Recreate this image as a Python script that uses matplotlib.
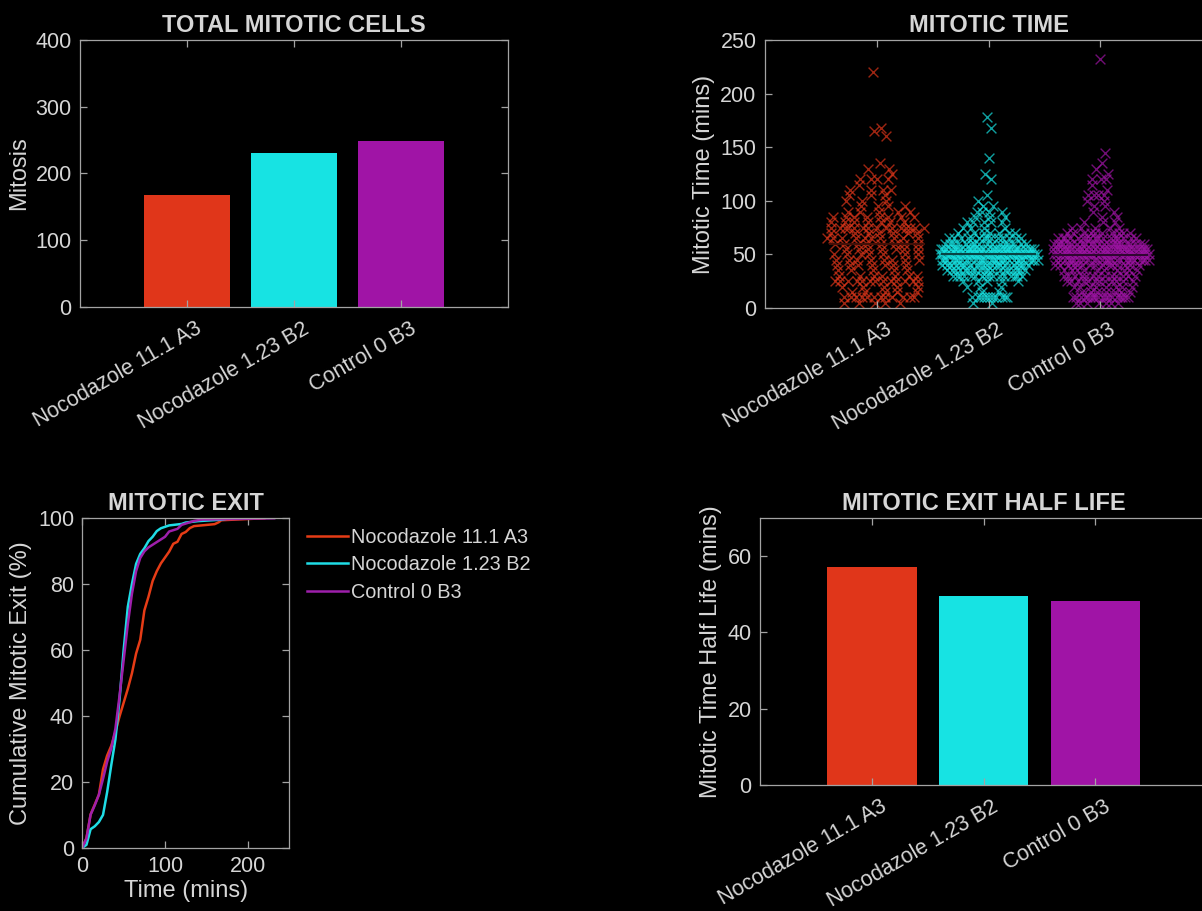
import numpy as np
import matplotlib.pyplot as plt
from matplotlib import transforms

groups = ['Nocodazole 11.1 A3', 'Nocodazole 1.23 B2', 'Control 0 B3']

# mitotic time per cell (mins), stored as time value + number of cells at that value
a3_times = [5, 10, 15, 20, 25, 30, 35, 40, 45, 50, 55, 60, 65, 70, 75, 80, 85, 90, 95,
            100, 105, 110, 115, 120, 125, 130, 135, 160, 165, 168, 220]
a3_counts = [5, 12, 5, 5, 13, 7, 5, 7, 8, 7, 7, 8, 10, 7, 15, 7, 8, 5, 4,
             3, 3, 4, 1, 4, 1, 2, 1, 1, 1, 1, 1]
b2_times = [5, 10, 15, 20, 25, 30, 35, 40, 45, 50, 55, 60, 65, 70, 75, 80, 85, 90, 95,
            100, 105, 120, 125, 140, 168, 178]
b2_counts = [2, 11, 2, 3, 5, 16, 19, 18, 28, 35, 30, 16, 14, 7, 4, 5, 3, 4, 2,
             1, 1, 1, 1, 1, 1, 1]
b3_times = [5, 10, 15, 20, 25, 30, 35, 40, 45, 50, 55, 60, 65, 70, 75, 80, 85, 90, 95,
            100, 105, 110, 115, 120, 125, 130, 135, 145, 232]
b3_counts = [7, 18, 7, 8, 12, 13, 10, 15, 25, 27, 27, 23, 17, 10, 5, 3, 2, 2, 2,
             2, 4, 1, 1, 3, 1, 1, 1, 1, 1]

half_life = [57.1, 49.5, 48.2]

bar_colors = ['#e0361a', '#17e3e3', '#a014a6']
line_colors = ['#e63c16', '#1fdde6', '#9e1fab']
text_col = '#d6d6d6'
axis_col = '#a3a3a3'

plt.rcParams['font.family'] = ['Liberation Sans', 'DejaVu Sans']

times = [np.repeat(a3_times, a3_counts).astype(float),
         np.repeat(b2_times, b2_counts).astype(float),
         np.repeat(b3_times, b3_counts).astype(float)]
totals = [len(t) for t in times]
xpos = np.arange(1, 4)


def style(ax, right=True):
    ax.set_facecolor('black')
    for s in ax.spines.values():
        s.set_color(axis_col)
        s.set_linewidth(0.9)
    ax.tick_params(direction='in', top=True, right=right, colors=axis_col,
                   labelcolor=text_col, labelsize=15.5, length=5, width=0.9, pad=6)


def cat_labels(ax, dx=8):
    ax.set_xticks(xpos)
    ax.set_xticklabels(groups, rotation=30, ha='right', rotation_mode='anchor')
    off = transforms.ScaledTranslation(dx / 100, -3 / 100, ax.figure.dpi_scale_trans)
    for lab in ax.get_xticklabels():
        lab.set_transform(lab.get_transform() + off)


def swarm_offsets(vals, half_width):
    # spread each row sideways in proportion to the local density
    grid = np.unique(vals)
    dens = np.array([np.exp(-0.5 * ((vals - g) / 12.0) ** 2).sum() for g in grid])
    dens = (dens / dens.max()) ** 0.6
    x = np.zeros_like(vals)
    for r, g in enumerate(grid):
        idx = np.where(vals == g)[0]
        frac = (np.arange(len(idx)) * 0.618034 + r * 0.37) % 1.0
        x[idx] = half_width * dens[r] * (2 * frac - 1)
    return x


fig = plt.figure(figsize=(12.02, 9.11), dpi=100, facecolor='black')

# total mitotic cells
ax1 = fig.add_axes([0.0666, 0.6630, 0.3561, 0.2931])
style(ax1)
ax1.bar(xpos, totals, width=0.8, color=bar_colors)
ax1.set_xlim(0, 4)
ax1.set_ylim(0, 400)
ax1.set_yticks([0, 100, 200, 300, 400])
cat_labels(ax1)
ax1.set_ylabel('Mitosis', color=text_col, fontsize=17, labelpad=4)
ax1.set_title('TOTAL MITOTIC CELLS', color=text_col, fontsize=17, fontweight='bold', pad=6)

# mitotic time swarm
ax2 = fig.add_axes([0.6364, 0.6619, 0.3720, 0.2942])
style(ax2, right=False)
for i, vals in enumerate(times):
    xs = xpos[i] + swarm_offsets(vals, 0.45)
    ax2.scatter(xs, vals, marker='x', s=50, linewidths=1.0, color=bar_colors[i], alpha=0.7)
    dark = tuple(0.3 * np.array(plt.matplotlib.colors.to_rgb(bar_colors[i])))
    ax2.plot([xpos[i] - 0.42, xpos[i] + 0.42], [vals.mean()] * 2, color=dark, lw=1.5)
ax2.set_xlim(0, 4)
ax2.set_ylim(0, 250)
ax2.set_yticks([0, 50, 100, 150, 200, 250])
cat_labels(ax2)
ax2.set_ylabel('Mitotic Time (mins)', color=text_col, fontsize=17, labelpad=4)
ax2.set_title('MITOTIC TIME', color=text_col, fontsize=17, fontweight='bold', pad=6)

# cumulative mitotic exit, one point per observed time
ax3 = fig.add_axes([0.0685, 0.0695, 0.1720, 0.3616])
style(ax3)
for i, vals in enumerate(times):
    t, n = np.unique(vals, return_counts=True)
    pct = np.cumsum(n) / n.sum() * 100
    ax3.plot(np.r_[0, t], np.r_[0, pct], color=line_colors[i], lw=1.8, label=groups[i])
ax3.set_xlim(0, 250)
ax3.set_ylim(0, 100)
ax3.set_xticks([0, 100, 200])
ax3.set_yticks([0, 20, 40, 60, 80, 100])
ax3.set_xlabel('Time (mins)', color=text_col, fontsize=17, labelpad=2)
ax3.set_ylabel('Cumulative Mitotic Exit (%)', color=text_col, fontsize=17, labelpad=4)
ax3.set_title('MITOTIC EXIT', color=text_col, fontsize=17, fontweight='bold', pad=6)
leg = ax3.legend(loc='upper left', bbox_to_anchor=(0.2554, 0.4205),
                 bbox_transform=fig.transFigure, frameon=False, fontsize=14.3,
                 handlelength=2.05, handletextpad=0.15, labelspacing=0.42,
                 borderpad=0, borderaxespad=0)
for t in leg.get_texts():
    t.set_color(text_col)

# half life of mitotic exit
ax4 = fig.add_axes([0.6323, 0.1383, 0.3720, 0.2931])
style(ax4, right=False)
ax4.bar(xpos, half_life, width=0.8, color=bar_colors)
ax4.set_xlim(0, 4)
ax4.set_ylim(0, 70)
ax4.set_yticks([0, 20, 40, 60])
cat_labels(ax4)
ax4.set_ylabel('Mitotic Time Half Life (mins)', color=text_col, fontsize=17, labelpad=4)
ax4.set_title('MITOTIC EXIT HALF LIFE', color=text_col, fontsize=17, fontweight='bold', pad=6)

fig.savefig('out.png', dpi=100, facecolor='black')
